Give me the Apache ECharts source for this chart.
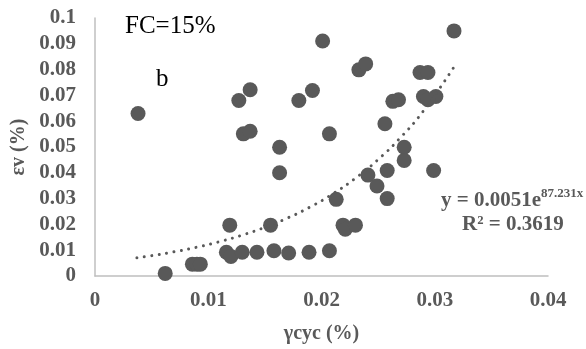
<!DOCTYPE html>
<html><head><meta charset="utf-8">
<script src="https://cdn.jsdelivr.net/npm/echarts@6/dist/echarts.min.js"></script>
<style>html,body{margin:0;padding:0;background:#fff}#c{width:586px;height:349px}</style>
</head><body><div id="c"></div>
<script>
var gammaCyc = [0.0038,0.0127,0.0137,0.0131,0.0137,0.0163,0.0163,0.0180,0.0192,0.0201,
  0.0233,0.0239,0.0207,0.0256,0.0263,0.0268,0.0287,0.0294,0.0290,0.0301,
  0.0294,0.0317,0.0273,0.0273,0.0299,0.0258,0.0241,0.0249,0.0258,0.0213,
  0.0155,0.0219,0.0221,0.0230,0.0119,0.0062,0.0086,0.0090,0.0093,0.0116,
  0.0120,0.0130,0.0143,0.0158,0.0171,0.0189,0.0207];
var epsV = [0.063,0.068,0.0722,0.0551,0.0561,0.0499,0.0400,0.068,0.0719,0.0911,
  0.0799,0.0822,0.0551,0.059,0.0677,0.0683,0.0789,0.0789,0.0696,0.0696,
  0.0683,0.095,0.0499,0.0448,0.0409,0.0409,0.0391,0.0349,0.0300,0.0297,
  0.0197,0.0197,0.0181,0.0197,0.0197,0.0010,0.0046,0.0046,0.0046,0.0092,
  0.0076,0.0092,0.0092,0.0098,0.0089,0.0092,0.0098];
var trendX = [0.0037,0.005,0.007,0.009,0.011,0.013,0.015,0.017,0.019,0.021,0.023,0.025,0.027,0.029,0.0318];
var trendY = [0.00704,0.00789,0.00939,0.01118,0.01331,0.01585,0.01887,0.02247,0.02675,0.03185,0.03792,0.04515,0.05376,0.06401,0.0817];
var xTickLabels = ['0','0.01','0.02','0.03','0.04'];
var yTickLabels = ['0','0.01','0.02','0.03','0.04','0.05','0.06','0.07','0.08','0.09','0.1'];

var pts = gammaCyc.map(function(x,i){return [x, epsV[i]];});
var trend = trendX.map(function(x,i){return [x, trendY[i]];});
var grey = '#595959';
var font = '"Liberation Serif"';

var chart = echarts.init(document.getElementById('c'));
chart.setOption({
  animation:false,
  grid:{left:95,right:38,top:18,bottom:72},
  xAxis:{type:'value',min:0,max:0.04,interval:0.01,
    axisLine:{lineStyle:{color:'#bfbfbf',width:1.5}},axisTick:{show:false},splitLine:{show:false},
    axisLabel:{margin:14,color:grey,fontFamily:'Liberation Serif',fontWeight:'bold',fontSize:21,
      formatter:function(v){return xTickLabels[Math.round(v/0.01)];}},
    name:'γcyc (%)',nameLocation:'middle',nameGap:48,
    nameTextStyle:{color:grey,fontFamily:'Liberation Serif',fontWeight:'bold',fontSize:20}},
  yAxis:{type:'value',min:0,max:0.1,interval:0.01,
    axisLine:{show:true,lineStyle:{color:'#bfbfbf',width:1.5}},axisTick:{show:false},splitLine:{show:false},
    axisLabel:{margin:19,color:grey,fontFamily:'Liberation Serif',fontWeight:'bold',fontSize:21,
      formatter:function(v){return yTickLabels[Math.round(v/0.01)];}},
    name:'εv (%)',nameLocation:'middle',nameGap:62,nameRotate:90,
    nameTextStyle:{color:grey,fontFamily:'Liberation Serif',fontWeight:'bold',fontSize:20}},
  series:[
    {type:'line',data:trend,smooth:true,symbol:'none',z:3,
      lineStyle:{color:grey,width:3,type:[0.01,7.5],cap:'round'}},
    {type:'scatter',data:pts,symbol:'circle',symbolSize:15,z:2,
      itemStyle:{color:grey,opacity:1}}
  ],
  graphic:[
    {type:'text',left:125,top:14,style:{text:'FC=15%',font:'25px '+font,fill:'#000'}},
    {type:'text',left:156,top:67,style:{text:'b',font:'25px '+font,fill:'#000'}},
    {type:'text',left:441,top:187,style:{text:'{a|y = 0.0051e}{s|87.231x}',
      rich:{a:{fontFamily:'Liberation Serif',fontWeight:'bold',fontSize:21,fill:grey,color:grey,lineHeight:24,verticalAlign:'bottom'},
            s:{fontFamily:'Liberation Serif',fontWeight:'bold',fontSize:13,fill:grey,color:grey,lineHeight:24,verticalAlign:'top'}}}},
    {type:'text',left:462,top:214,style:{text:'R² = 0.3619',font:'bold 21px '+font,fill:grey}}
  ]
});
</script></body></html>
